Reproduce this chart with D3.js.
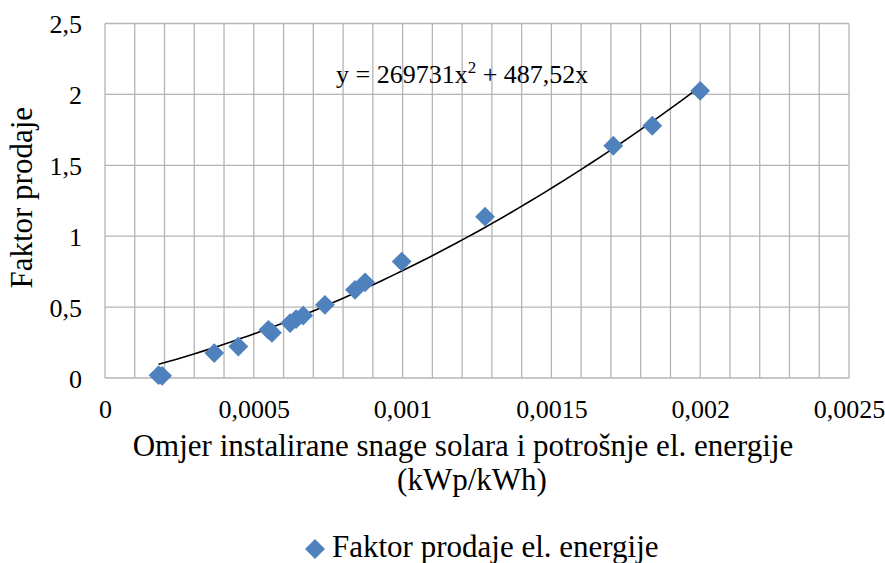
<!DOCTYPE html>
<meta charset="utf-8">
<style>
  body { margin: 0; background: #fff; }
  svg text { font-family: "Times New Roman", "Liberation Serif", Tinos, "DejaVu Serif", serif; fill: #000; }
</style>
<body>
<div id="chart"></div>

<script src="https://cdnjs.cloudflare.com/ajax/libs/d3/7.8.5/d3.min.js"></script>
<script>
// data
var ratio  = [0.00018, 0.000192, 0.000367, 0.000448, 0.000549, 0.000561, 0.000622, 0.000642, 0.000666,
              0.000739, 0.00084, 0.000874, 0.000997, 0.001277, 0.001708, 0.001839, 0.002];
var factor = [0.02, 0.015, 0.176, 0.222, 0.34, 0.319, 0.387, 0.415, 0.44,
              0.516, 0.622, 0.675, 0.821, 1.138, 1.638, 1.779, 2.025];
var xTicks = [0, 0.0005, 0.001, 0.0015, 0.002, 0.0025];
var yTicks = [0, 0.5, 1, 1.5, 2, 2.5];
// trendline coefficients (y = a*x^2 + b*x)
var trendA = 269731, trendB = 487.52;
var seriesName = "Faktor prodaje el. energije";

var serif = "'Times New Roman', 'Liberation Serif', Tinos, 'DejaVu Serif', serif";

var W = 885, H = 563;
var margin = {top: 23.5, right: 36, bottom: 185, left: 105};
var width = W - margin.left - margin.right,
    height = H - margin.top - margin.bottom;

var x = d3.scaleLinear().domain([0, 0.0025]).range([0, width]);
var y = d3.scaleLinear().domain([0, 2.5]).range([height, 0]);

var svg = d3.select("#chart").append("svg")
    .attr("width", W)
    .attr("height", H)
    .attr("font-family", serif);

var g = svg.append("g")
    .attr("transform", "translate(" + margin.left + "," + margin.top + ")");

var fmt = function(d) { return String(d).replace(".", ","); };

// vertical gridlines every 0.0001
g.append("g")
    .selectAll("line")
    .data(d3.range(0, 26).map(function(i) { return i * 0.0001; }))
  .enter().append("line")
    .attr("x1", function(d) { return x(d); })
    .attr("x2", function(d) { return x(d); })
    .attr("y1", 0)
    .attr("y2", height)
    .style("stroke", "#b4b4b4")
    .style("stroke-width", "1.3px");

// horizontal gridlines
g.append("g")
    .selectAll("line")
    .data(yTicks)
  .enter().append("line")
    .attr("x1", 0)
    .attr("x2", width)
    .attr("y1", function(d) { return y(d); })
    .attr("y2", function(d) { return y(d); })
    .style("stroke", "#b4b4b4")
    .style("stroke-width", "1.3px");

// axes (labels only, lines come from the grid)
var xAxis = g.append("g")
    .attr("transform", "translate(0," + height + ")")
    .call(d3.axisBottom(x).tickValues(xTicks).tickFormat(fmt).tickSize(0).tickPadding(0))
    .attr("font-family", serif)
    .attr("font-size", 26);
xAxis.select(".domain").remove();
xAxis.selectAll("text")
    .attr("dy", null)
    .attr("y", 40)
    .attr("fill", "#000");

var yAxis = g.append("g")
    .call(d3.axisLeft(y).tickValues(yTicks).tickFormat(fmt).tickSize(0).tickPadding(0))
    .attr("font-family", serif)
    .attr("font-size", 26);
yAxis.select(".domain").remove();
yAxis.selectAll("text")
    .attr("x", -23)
    .attr("dy", "0.35em")
    .attr("fill", "#000");

// trendline drawn from its equation over the data range
var xMin = d3.min(ratio), xMax = d3.max(ratio);
var trend = d3.range(0, 61).map(function(i) {
  var xv = xMin + (xMax - xMin) * i / 60;
  return [xv, trendA * xv * xv + trendB * xv];
});
g.append("path")
    .datum(trend)
    .attr("d", d3.line()
        .x(function(d) { return x(d[0]); })
        .y(function(d) { return y(d[1]); }))
    .style("fill", "none")
    .style("stroke", "#000")
    .style("stroke-width", "1.6px");

// markers
var diamond = d3.symbol().type(d3.symbolSquare).size(196);
g.selectAll(".dot")
    .data(ratio)
  .enter().append("path")
    .attr("class", "dot")
    .attr("d", diamond)
    .attr("transform", function(d, i) {
      return "translate(" + x(d) + "," + y(factor[i]) + ") rotate(45)";
    })
    .style("fill", "#4f81bd");

// equation label
var eq = svg.append("text")
    .attr("x", 336)
    .attr("y", 83)
    .attr("font-size", 26);
eq.append("tspan").text("y = 269731x");
eq.append("tspan").attr("dy", -10).attr("font-size", 17).text("2");
eq.append("tspan").attr("dy", 10).text(" + 487,52x");

// axis titles
svg.append("text")
    .attr("transform", "translate(32," + (margin.top + height / 2 - 3) + ") rotate(-90)")
    .attr("text-anchor", "middle")
    .attr("font-size", 31)
    .text("Faktor prodaje");

var xt = svg.append("text")
    .attr("text-anchor", "middle")
    .attr("font-size", 31);
xt.append("tspan").attr("x", 463).attr("y", 456)
    .text("Omjer instalirane snage solara i potrošnje el. energije");
xt.append("tspan").attr("x", 472).attr("y", 490)
    .text("(kWp/kWh)");

// legend
var leg = svg.append("g").attr("transform", "translate(315,549)");
leg.append("path")
    .attr("d", d3.symbol().type(d3.symbolSquare).size(200))
    .attr("transform", "rotate(45)")
    .style("fill", "#4f81bd");
leg.append("text")
    .attr("x", 17)
    .attr("y", 7.5)
    .attr("font-size", 31)
    .text(seriesName);
</script>
</body>
